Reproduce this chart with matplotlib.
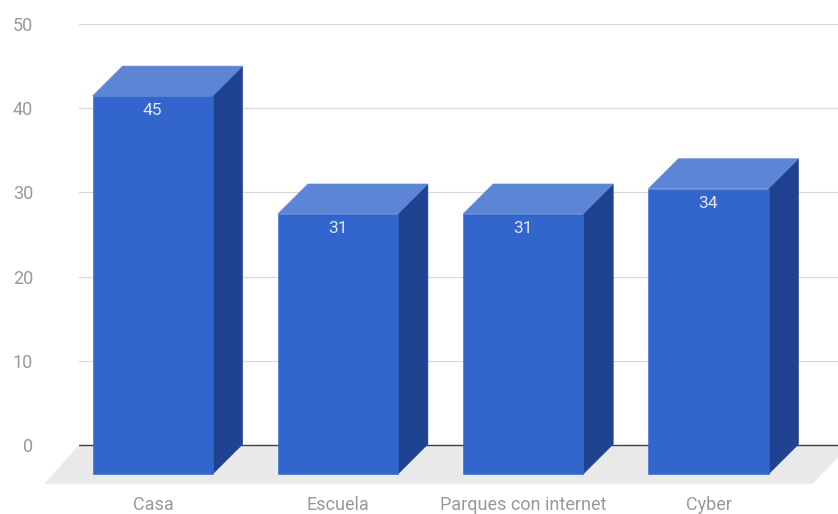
import matplotlib
matplotlib.use("Agg")
import matplotlib.pyplot as plt
from matplotlib.patches import Polygon

plt.rcParams["font.family"] = ["Roboto", "DejaVu Sans"]

categories = ["Casa", "Escuela", "Parques con internet", "Cyber"]
values = [45, 31, 31, 34]
yticks = [0, 10, 20, 30, 40, 50]

# look of the fake 3d bars, in data units
bar_width = 0.648
depth_x = 0.162
depth_y = 3.55

front = "#3366cc"
top = "#5c85d6"
side = "#1f4390"

fig = plt.figure(figsize=(8.38, 5.14), dpi=100)
ax = fig.add_axes([79 / 838, 30 / 514, 759 / 838, 460 / 514])
ax.set_xlim(-0.399, 3.697)
ax.set_ylim(-4.63, 50)

for s in ax.spines.values():
    s.set_visible(False)

ax.set_yticks(yticks)
ax.set_xticks(range(len(categories)))
ax.set_xticklabels(categories)
ax.tick_params(axis="y", length=0, pad=33, labelsize=13, labelcolor="#999999")
ax.tick_params(axis="x", length=0, pad=9, labelsize=13, labelcolor="#999999")
ax.grid(axis="y", color="#d9d9d9", lw=0.9, zorder=0)
ax.set_axisbelow(True)

# floor
floor = Polygon([(-0.399, 0), (3.76, 0), (3.56, -4.6), (-0.584, -4.6)],
                closed=True, fc="#e9e9e9", ec="none", zorder=1, clip_on=False)
ax.add_patch(floor)
ax.axhline(0, color="#444444", lw=1.0, zorder=2)

for i, v in enumerate(values):
    x0 = i - bar_width / 2 - 0.002
    x1 = x0 + bar_width
    y0 = -depth_y + 0.1
    y1 = v - depth_y
    ax.add_patch(Polygon([(x1, y0), (x1 + depth_x, y0 + depth_y), (x1 + depth_x, y1 + depth_y), (x1, y1)],
                         closed=True, fc=side, ec=side, lw=0.4, zorder=3))
    ax.add_patch(Polygon([(x0, y1), (x0 + depth_x, y1 + depth_y), (x1 + depth_x, y1 + depth_y), (x1, y1)],
                         closed=True, fc=top, ec=top, lw=0.4, zorder=3))
    ax.add_patch(Polygon([(x0, y0), (x1, y0), (x1, y1), (x0, y1)],
                         closed=True, fc=front, ec=front, lw=0.4, zorder=4))
    ax.annotate(str(v), (i - 0.003, y1), xytext=(0, -14.5 * 0.72), textcoords="offset points",
                ha="center", va="center", color="#dfe7f8", fontsize=12.5, zorder=5)

fig.savefig("out.png", dpi=100)
